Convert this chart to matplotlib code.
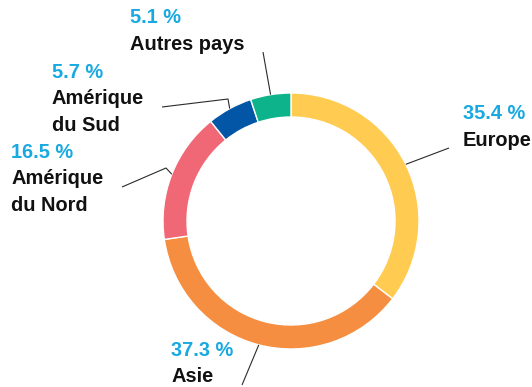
import numpy as np
import matplotlib
matplotlib.use('Agg')
import matplotlib.pyplot as plt

# Share of sales by region, clockwise from 12 o'clock
regions = ['Europe', 'Asie', 'Amérique\ndu Nord', 'Amérique\ndu Sud', 'Autres pays']
shares = [35.4, 37.3, 16.5, 5.7, 5.1]
colors = ['#FFCB50', '#F58E40', '#F06775', '#0356A5', '#0DB38B']

# Label layout in pixels (x left, y baseline of the percentage line)
# and leader line knees/ends
label_xy = [(463, 119), (171, 356), (11, 158), (52, 78), (130, 23)]
leader_pts = [
    [(449, 148)],
    [(242, 385)],
    [(166, 168), (122, 187)],
    [(228, 99), (162, 107)],
    [(263, 52)],
]

W, H = 532, 387
cx, cy, r_out, width = 291, 221, 128, 24

pct_col = '#19A9E1'
fam = ['Liberation Sans', 'DejaVu Sans']
fsize = 14.4
line_h = 26.5

fig = plt.figure(figsize=(W / 100, H / 100), dpi=100)
ax = fig.add_axes([0, 0, 1, 1])
ax.set_xlim(0, W)
ax.set_ylim(0, H)
ax.set_aspect('equal')
ax.axis('off')

ax.pie(shares, colors=colors, startangle=90, counterclock=False,
       center=(cx, H - cy), radius=r_out, frame=True,
       wedgeprops=dict(width=width, edgecolor='white', linewidth=1))
ax.set_xlim(0, W)
ax.set_ylim(0, H)
ax.axis('off')

cum = np.cumsum([0] + shares[:-1])
for i, (name, val) in enumerate(zip(regions, shares)):
    # leader starts at the middle of the wedge on the outer edge
    ang = np.deg2rad((cum[i] + val / 2) / 100 * 360)
    x0 = cx + r_out * np.sin(ang)
    y0 = cy - r_out * np.cos(ang)
    pts = [(x0, y0)] + leader_pts[i]
    xs = [p[0] for p in pts]
    ys = [H - p[1] for p in pts]
    ax.plot(xs, ys, color='#2b2b2b', lw=0.8, solid_capstyle='butt')

    lx, ly = label_xy[i]
    ax.text(lx, H - ly, f'{val:.1f} %', color=pct_col, fontsize=fsize,
            fontweight='bold', family=fam, ha='left', va='baseline')
    for j, part in enumerate(name.split('\n')):
        ax.text(lx, H - ly - line_h * (j + 1), part, color='#111111',
                fontsize=fsize, fontweight='bold', family=fam,
                ha='left', va='baseline')

fig.savefig('out.png', dpi=100, facecolor='white')
